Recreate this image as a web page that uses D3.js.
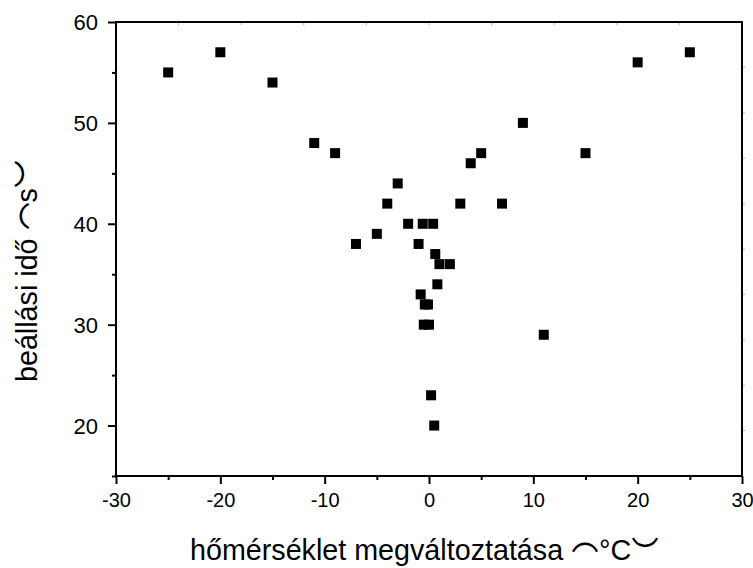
<!DOCTYPE html>
<html>
<head>
  <meta charset="utf-8">
  <script src="https://d3js.org/d3.v7.min.js"></script>
  <style>
    body { margin: 0; background: white; }
    text { font-family: Arial, "Liberation Sans", sans-serif; fill: black; }
  </style>
</head>
<body>
  <div id="chart"></div>
  <script>
    // temperature change (°C) and settling time (s)
    var tempChange = [-25, -20, -15, -11, -9, -4, -3, -2, -7, -5, -1, -0.6, 0.4, 0.6, 1, 2, 0.8,
      -0.8, -0.4, -0.1, -0.5, 0, 0.2, 0.5, 3, 4, 5, 7, 9, 11, 15, 20, 25];
    var settleTime = [55, 57, 54, 48, 47, 42, 44, 40, 38, 39, 38, 40, 40, 37, 36, 36, 34,
      33, 32, 32, 30, 30, 23, 20, 42, 46, 47, 42, 50, 29, 47, 56, 57];

    var xTicks = [-30, -20, -10, 0, 10, 20, 30];
    var xMinor = [-25, -15, -5, 5, 15, 25];
    var yTicks = [20, 30, 40, 50, 60];
    var yMinor = [15, 25, 35, 45, 55];

    var width = 753, height = 568;
    var plotLeft = 116, plotRight = 742, plotTop = 22, plotBottom = 476;

    var svg = d3.select('#chart').append('svg')
      .attr('width', width)
      .attr('height', height);

    var x = d3.scaleLinear().domain([-30, 30]).range([plotLeft, plotRight]);
    var y = d3.scaleLinear().domain([15, 60]).range([plotBottom, plotTop]);

    var fmt = function (d) { return String(d); };

    // bottom axis
    var xAxis = svg.append('g').attr('transform', 'translate(0,' + plotBottom + ')')
      .call(d3.axisBottom(x).tickValues(xTicks).tickSize(8).tickPadding(9).tickFormat(fmt));
    svg.append('g').attr('transform', 'translate(0,' + plotBottom + ')')
      .call(d3.axisBottom(x).tickValues(xMinor).tickSize(4).tickFormat(''));

    // left axis
    var yAxis = svg.append('g').attr('transform', 'translate(' + plotLeft + ',0)')
      .call(d3.axisLeft(y).tickValues(yTicks).tickSize(8).tickPadding(10).tickFormat(fmt));
    svg.append('g').attr('transform', 'translate(' + plotLeft + ',0)')
      .call(d3.axisLeft(y).tickValues(yMinor).tickSize(4).tickFormat(''));

    svg.selectAll('.domain').remove();
    svg.selectAll('.tick line').attr('stroke', 'black').attr('stroke-width', 2);
    xAxis.selectAll('text').style('font-size', '20px').attr('dy', '0.71em');
    yAxis.selectAll('text').style('font-size', '22px').attr('dy', '0.36em');

    // faint ticks on top and right edges
    var topScale = d3.scaleLinear().domain([0, 10]).range([plotLeft, plotRight]);
    var rightScale = d3.scaleLinear().domain([0, 10]).range([plotBottom, plotTop]);
    svg.append('g').selectAll('line').data(d3.range(1, 10)).join('line')
      .attr('x1', function (d) { return topScale(d); })
      .attr('x2', function (d) { return topScale(d); })
      .attr('y1', plotTop).attr('y2', plotTop + 3)
      .attr('stroke', '#aaa').attr('stroke-width', 1);
    svg.append('g').selectAll('line').data(d3.range(1, 10)).join('line')
      .attr('y1', function (d) { return rightScale(d); })
      .attr('y2', function (d) { return rightScale(d); })
      .attr('x1', plotRight).attr('x2', plotRight + 3)
      .attr('stroke', '#aaa').attr('stroke-width', 1);

    // frame
    svg.append('rect')
      .attr('x', plotLeft).attr('y', plotTop)
      .attr('width', plotRight - plotLeft).attr('height', plotBottom - plotTop)
      .attr('fill', 'none').attr('stroke', 'black').attr('stroke-width', 2);

    // points
    var size = 10;
    svg.append('g').selectAll('rect').data(tempChange).join('rect')
      .attr('x', function (d) { return x(d) - size / 2; })
      .attr('y', function (d, i) { return y(settleTime[i]) - size / 2; })
      .attr('width', size).attr('height', size)
      .attr('fill', 'black');

    // axis titles, brackets drawn as arc glyphs like the original
    function addTitle(t, label, unit) {
      t.style('font-size', '28.7px');
      t.append('tspan').text(label + ' ');
      t.append('tspan').attr('dy', 19).style('font-size', '46px').text('⁀');
      t.append('tspan').attr('dy', -19).text(unit);
      t.append('tspan').attr('dy', -24).style('font-size', '46px').text('‿');
    }

    addTitle(svg.append('text').attr('x', 190).attr('y', 560),
      'hőmérséklet megváltoztatása', '°C');

    addTitle(svg.append('text').attr('transform', 'translate(37,382) rotate(-90)'),
      'beállási idő', 's');
  </script>
</body>
</html>
